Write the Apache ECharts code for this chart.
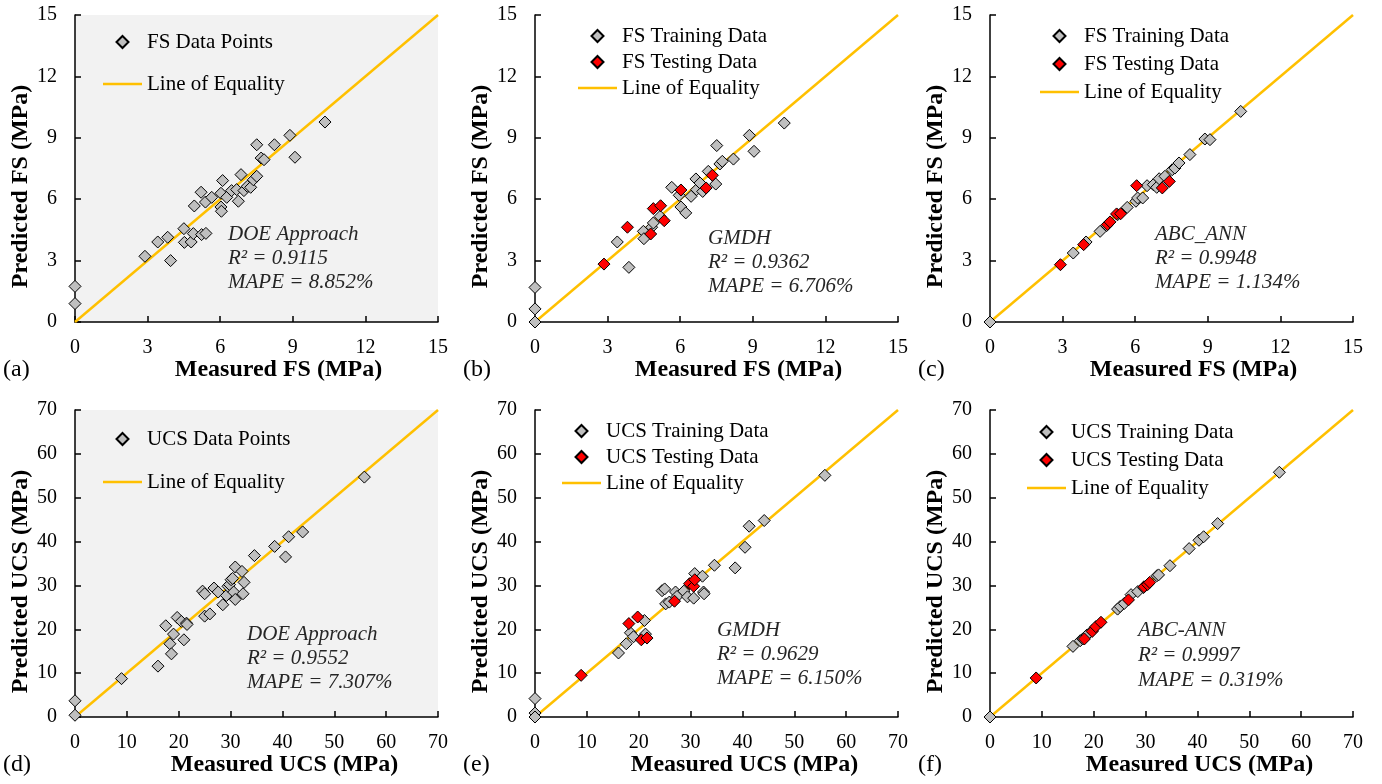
<!DOCTYPE html>
<html>
<head>
<meta charset="utf-8">
<script src="https://cdn.jsdelivr.net/npm/echarts@6/dist/echarts.min.js"></script>
<style>
html,body{margin:0;padding:0;background:#fff;}
#chart{width:1382px;height:784px;}
</style>
</head>
<body>
<div id="chart"></div>
<script>
// ---- axis settings [min, max, interval] ----
const fsAxis = [0, 15, 3];
const ucsAxis = [0, 70, 10];

// ---- line of equality ----
const equalityFS = [[0, 0], [15, 15]];
const equalityUCS = [[0, 0], [70, 70]];

// ---- (a) FS, DOE approach ----
const fsDoePoints = [[0,1.74],[0,0.90],[2.89,3.21],[3.42,3.91],[3.83,4.14],[3.95,3.00],[4.50,4.56],[4.52,3.89],[4.80,3.91],[4.89,4.32],[5.23,4.27],[5.41,4.33],[4.93,5.67],[5.21,6.34],[5.39,5.86],[5.65,6.09],[6.03,5.62],[6.05,5.41],[6.03,6.29],[6.10,6.91],[6.27,6.09],[6.47,6.42],[6.68,6.47],[6.75,5.90],[6.86,7.20],[6.98,6.42],[7.12,6.63],[7.26,6.58],[7.37,6.95],[7.51,7.12],[7.51,8.66],[7.69,8.01],[7.81,7.93],[8.24,8.66],[8.88,9.12],[9.09,8.05],[10.33,9.77]];

// ---- (b) FS, GMDH ----
const fsGmdhTrain = [[0,1.69],[0,0.64],[0,0],[3.40,3.91],[3.88,2.67],[4.48,4.43],[4.50,4.07],[4.82,4.63],[4.89,4.84],[5.17,5.16],[5.65,6.58],[5.96,6.19],[6.03,5.62],[6.23,5.33],[6.45,6.14],[6.65,6.99],[6.68,6.47],[6.82,6.79],[6.93,6.38],[7.16,7.36],[7.47,6.74],[7.51,8.62],[7.64,7.72],[7.74,7.85],[8.20,7.96],[8.86,9.12],[9.05,8.34],[10.30,9.72]];
const fsGmdhTest = [[2.85,2.83],[3.82,4.63],[4.78,4.30],[4.89,5.54],[5.19,5.68],[5.34,4.95],[6.03,6.45],[7.07,6.55],[7.33,7.17]];

// ---- (c) FS, ABC_ANN ----
const fsAnnTrain = [[0,0],[3.44,3.37],[3.97,3.91],[4.55,4.43],[4.82,4.71],[5.27,5.24],[5.67,5.60],[6.03,5.90],[6.10,6.06],[6.31,6.06],[6.49,6.66],[6.75,6.71],[6.89,6.58],[6.99,7.00],[7.23,7.12],[7.53,7.44],[7.64,7.52],[7.81,7.77],[8.26,8.18],[8.88,8.94],[9.09,8.91],[10.36,10.29]];
const fsAnnTest = [[2.91,2.80],[3.87,3.78],[4.85,4.76],[4.96,4.89],[5.23,5.28],[5.40,5.29],[6.06,6.66],[7.12,6.55],[7.41,6.87]];

// ---- (d) UCS, DOE approach ----
const ucsDoePoints = [[0,3.7],[0,0.4],[8.97,8.75],[16.0,11.6],[17.5,20.8],[18.3,16.7],[18.6,14.4],[19.0,18.9],[19.7,22.7],[20.5,21.8],[21.0,17.6],[21.5,21.4],[21.6,21.1],[24.6,28.7],[25.0,28.1],[25.0,23.0],[26.0,23.5],[26.8,29.4],[27.6,28.5],[28.5,25.6],[29.2,27.7],[29.5,29.8],[29.8,30.2],[30.1,31.3],[30.4,31.6],[30.6,28.5],[30.9,26.8],[30.9,34.2],[32.2,33.2],[32.4,28.1],[32.6,30.7],[34.6,36.8],[38.5,38.9],[40.6,36.5],[41.2,41.1],[43.9,42.2],[55.8,54.7]];

// ---- (e) UCS, GMDH ----
const ucsGmdhTrain = [[0,4.2],[0,0.9],[0,0],[16.1,14.6],[17.6,16.7],[18.4,19.2],[19.0,18.3],[21.1,22.0],[21.3,18.9],[24.5,28.8],[25.0,29.2],[25.2,25.8],[25.9,26.2],[27.1,28.5],[27.4,27.5],[28.7,28.7],[29.4,27.4],[30.6,27.1],[30.8,32.7],[32.3,32.1],[32.5,28.5],[32.6,28.1],[34.6,34.6],[38.6,34.0],[40.5,38.7],[41.3,43.5],[44.2,44.8],[55.9,55.1]];
const ucsGmdhTest = [[8.9,9.5],[18.1,21.3],[19.8,22.8],[20.5,17.6],[21.6,18.0],[26.9,26.4],[29.8,30.4],[30.6,29.8],[30.8,31.3]];

// ---- (f) UCS, ABC-ANN ----
const ucsAnnTrain = [[0,0],[16.0,16.1],[17.4,17.4],[17.9,17.8],[18.7,18.7],[19.7,19.7],[24.6,24.6],[25.1,25.2],[25.9,25.9],[27.2,27.9],[28.5,28.6],[29.6,29.5],[32.2,32.2],[32.5,32.4],[34.7,34.5],[38.4,38.4],[40.3,40.3],[41.2,41.1],[43.9,44.1],[55.8,55.8]];
const ucsAnnTest = [[8.9,8.9],[18.2,17.8],[19.7,19.5],[20.4,20.6],[21.4,21.6],[26.7,26.7],[29.7,29.7],[30.4,30.2],[30.8,30.7]];

// ---- texts ----
const panelLetters = ['(a)', '(b)', '(c)', '(d)', '(e)', '(f)'];
const xTitles = ['Measured FS (MPa)', 'Measured FS (MPa)', 'Measured FS (MPa)', 'Measured UCS (MPa)', 'Measured UCS (MPa)', 'Measured UCS (MPa)'];
const yTitles = ['Predicted FS (MPa)', 'Predicted FS (MPa)', 'Predicted FS (MPa)', 'Predicted UCS (MPa)', 'Predicted UCS (MPa)', 'Predicted UCS (MPa)'];
const modelNames = ['DOE Approach', 'GMDH', 'ABC_ANN', 'DOE Approach', 'GMDH', 'ABC-ANN'];
const r2Values = ['0.9115', '0.9362', '0.9948', '0.9552', '0.9629', '0.9997'];
const mapeValues = ['8.852%', '6.706%', '1.134%', '7.307%', '6.150%', '0.319%'];

// ---- layout ----
const FONT = "'Liberation Serif', 'Times New Roman', serif";
const gridLefts = [75, 535, 990, 75, 535, 990];
const gridTops = [15, 15, 15, 410, 410, 410];
const GW = 363, GH = 307;
const grayBg = [true, false, false, true, false, false];
const DIAMOND_ICON = 'path://M6,0L12,6L6,12L0,6Z';
const LINE_ICON = 'path://M0,0L39,0L39,2.5L0,2.5Z';

const panels = [
  {axis: fsAxis, eq: equalityFS, sets: [['FS Data Points', fsDoePoints, '#BFBFBF']]},
  {axis: fsAxis, eq: equalityFS, sets: [['FS Training Data', fsGmdhTrain, '#BFBFBF'], ['FS Testing Data', fsGmdhTest, '#FF0000']]},
  {axis: fsAxis, eq: equalityFS, sets: [['FS Training Data', fsAnnTrain, '#BFBFBF'], ['FS Testing Data', fsAnnTest, '#FF0000']]},
  {axis: ucsAxis, eq: equalityUCS, sets: [['UCS Data Points', ucsDoePoints, '#BFBFBF']]},
  {axis: ucsAxis, eq: equalityUCS, sets: [['UCS Training Data', ucsGmdhTrain, '#BFBFBF'], ['UCS Testing Data', ucsGmdhTest, '#FF0000']]},
  {axis: ucsAxis, eq: equalityUCS, sets: [['UCS Training Data', ucsAnnTrain, '#BFBFBF'], ['UCS Testing Data', ucsAnnTest, '#FF0000']]}
];

// legend placement: [left, top, itemGap]
const legendPos = [[103, 30, 18], [578, 24, 2], [1040, 24, 4], [103, 427, 19], [562, 419, 2], [1027, 420, 4]];
// annotation placement: [left, middle-line center y, line height]
const notePos = [[228, 258, 24], [708, 262, 24], [1155, 258, 24], [247, 658, 24], [717, 654, 24], [1138, 655, 25]];

const grids = [], xAxes = [], yAxes = [], series = [], legends = [], graphics = [];

function axisCommon(ax, isY) {
  return {
    type: 'value', min: ax[0], max: ax[1], interval: ax[2],
    axisLine: {show: true, onZero: false, lineStyle: {color: '#000', width: 1.5}},
    axisTick: {show: true, inside: true, length: 6, lineStyle: {color: '#000', width: 1.5}},
    axisLabel: {fontSize: 20, fontFamily: FONT, color: '#000', margin: isY ? 18 : 16},
    splitLine: {show: false}
  };
}

panels.forEach((p, i) => {
  grids.push({
    left: gridLefts[i], top: gridTops[i], width: GW, height: GH,
    show: grayBg[i], backgroundColor: grayBg[i] ? '#F2F2F2' : 'transparent', borderWidth: 0
  });
  xAxes.push(Object.assign({gridIndex: i}, axisCommon(p.axis, false)));
  yAxes.push(Object.assign({gridIndex: i}, axisCommon(p.axis, true)));
  series.push({
    name: 'Line of Equality', type: 'line', xAxisIndex: i, yAxisIndex: i,
    data: p.eq, symbol: 'none', silent: true, z: 2,
    lineStyle: {color: '#FFC000', width: 2.5}, itemStyle: {color: '#FFC000'}
  });
  const items = [];
  p.sets.forEach(s => {
    items.push({name: s[0], icon: DIAMOND_ICON});
    series.push({
      name: s[0], type: 'scatter', xAxisIndex: i, yAxisIndex: i,
      data: s[1], symbol: 'diamond', symbolSize: 12, clip: false, z: 3,
      itemStyle: {color: s[2], borderColor: '#000', borderWidth: 1, opacity: 1}
    });
  });
  items.push({name: 'Line of Equality', icon: LINE_ICON});
  const lp = legendPos[i];
  legends.push({
    left: lp[0], top: lp[1], orient: 'vertical', padding: 0, itemGap: lp[2],
    itemWidth: 39, itemHeight: 12, symbolKeepAspect: true, selectedMode: false, data: items,
    textStyle: {fontFamily: FONT, fontSize: 21, color: '#000', lineHeight: 24}
  });

  const gl = gridLefts[i], gt = gridTops[i];
  const ucs = i >= 3;
  // x-axis title
  graphics.push({type: 'text', x: gl + GW / 2 + (ucs ? 28 : 22), y: gt + GH + 48,
    style: {text: xTitles[i], fontFamily: FONT, fontWeight: 'bold', fontSize: 24, fill: '#000',
      textAlign: 'center', textVerticalAlign: 'middle'}});
  // y-axis title
  graphics.push({type: 'text', x: gl - 54, y: gt + GH / 2 + 18, rotation: Math.PI / 2,
    style: {text: yTitles[i], fontFamily: FONT, fontWeight: 'bold', fontSize: 24, fill: '#000',
      textAlign: 'center', textVerticalAlign: 'middle'}});
  // panel letter
  graphics.push({type: 'text', x: gl - 72, y: gt + GH + 48,
    style: {text: panelLetters[i], fontFamily: FONT, fontSize: 24, fill: '#000',
      textAlign: 'left', textVerticalAlign: 'middle'}});
  // annotation
  const np = notePos[i];
  graphics.push({type: 'text', x: np[0], y: np[1],
    style: {text: modelNames[i] + '\nR\u00B2 = ' + r2Values[i] + '\nMAPE = ' + mapeValues[i],
      fontFamily: FONT, fontStyle: 'italic', fontSize: 21, lineHeight: np[2], fill: '#262626',
      textAlign: 'left', textVerticalAlign: 'middle'}});
});

const chart = echarts.init(document.getElementById('chart'), null, {renderer: 'canvas'});
chart.setOption({
  animation: false,
  backgroundColor: '#fff',
  grid: grids, xAxis: xAxes, yAxis: yAxes,
  legend: legends, series: series, graphic: graphics
});
</script>
</body>
</html>
